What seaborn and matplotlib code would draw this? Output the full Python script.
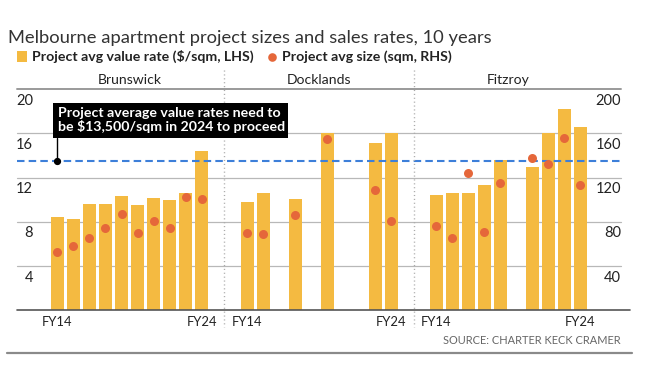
import numpy as np
import pandas as pd
import matplotlib
matplotlib.use("Agg")
import matplotlib.pyplot as plt
import seaborn as sns
from matplotlib.lines import Line2D
from matplotlib.patches import Rectangle
from matplotlib import transforms

# ---------------- data ----------------
suburbs = ["Brunswick", "Docklands", "Fitzroy"]
slots = list(range(10))                 # ten yearly slots, FY14 ... FY24
tick_slots = [0, 9]
tick_labels = ["FY14", "FY24"]

nan = np.nan
brunswick_rate = [8.4, 8.25, 9.65, 9.65, 10.35, 9.5, 10.15, 9.95, 10.6, 14.4]
brunswick_size = [53, 58, 65, 74, 87, 70, 81, 74, 102, 101]
docklands_rate = [9.75, 10.6, nan, 10.05, nan, 16.0, nan, nan, 15.15, 16.0]
docklands_size = [70, 69, nan, 86, nan, 155, nan, nan, 109, 81]
fitzroy_rate = [10.45, 10.6, 10.6, 11.3, 13.55, nan, 13.0, 16.0, 18.25, 16.6]
fitzroy_size = [76, 65, 124, 71, 115, nan, 138, 132, 156, 113]

left_ticks = [4, 8, 12, 16, 20]
right_ticks = [40, 80, 120, 160, 200]
grid_values = [4, 8, 12, 16]
threshold = 13.5

title = "Melbourne apartment project sizes and sales rates, 10 years"
legend_rate = "Project avg value rate ($/sqm, LHS)"
legend_size = "Project avg size (sqm, RHS)"
note_lines = ["Project average value rates need to", "be $13,500/sqm in 2024 to proceed"]
source = "SOURCE: CHARTER KECK CRAMER"

rows = []
for sub, rates, sizes in zip(suburbs,
                             [brunswick_rate, docklands_rate, fitzroy_rate],
                             [brunswick_size, docklands_size, fitzroy_size]):
    for s, r, z in zip(slots, rates, sizes):
        rows.append({"suburb": sub, "slot": s, "rate": r, "size": z})
df = pd.DataFrame(rows)

# ---------------- style ----------------
sns.set_style("white")
plt.rcParams["font.family"] = ["Lato", "DejaVu Sans"]
plt.rcParams["lines.scale_dashes"] = False

BAR = "#F4BA41"
DOT = "#E5673A"
BLUE = "#3D7FD9"
GRID = "#b8b8b8"
TXT = "#222222"

W, H = 650, 368
fig = plt.figure(figsize=(W / 100, H / 100), dpi=100)
fig.patch.set_facecolor("white")
R = fig.canvas.get_renderer()


def fx(px):
    return px / W


def fy(py):
    return 1 - py / H


def fit(t, target):
    w = t.get_window_extent(R).width
    t.set_fontsize(t.get_fontsize() * target / w)
    return t


# layout (pixels)
Y0_PX, Y20_PX = 310, 89.3
SLOT_PX = 16.05
panels_px = [(17, 224, 57.3), (224, 414, 247.0), (414, 630, 436.0)]

axes, twins = [], []
for sub, (l, r, c0) in zip(suburbs, panels_px):
    ax = fig.add_axes([fx(l), fy(Y0_PX), (r - l) / W, (Y0_PX - Y20_PX) / H])
    ax.set_facecolor("none")
    d = df[df["suburb"] == sub]
    sns.barplot(data=d.dropna(subset=["rate"]), x="slot", y="rate",
                native_scale=True, width=13 / 16.05, color=BAR, saturation=1,
                errorbar=None, linewidth=0, ax=ax)
    ax.set_xlim(-(c0 - l) / SLOT_PX, (r - c0) / SLOT_PX)
    ax.set_ylim(0, 20)
    ax.set_xlabel("")
    ax.set_ylabel("")
    ax.set_yticks([])
    ax.set_xticks(tick_slots, tick_labels)
    ax.tick_params(axis="x", length=0, pad=4, labelsize=9.4, labelcolor=TXT)
    for sp in ax.spines.values():
        sp.set_visible(False)
    axes.append(ax)

for sub, ax in zip(suburbs, axes):
    tw = ax.twinx()
    tw.set_zorder(2)
    d = df[df["suburb"] == sub].dropna(subset=["size"])
    sns.scatterplot(data=d, x="slot", y="size", color=DOT, s=42, linewidth=0,
                    legend=False, ax=tw)
    tw.set_ylim(0, 200)
    tw.axis("off")
    twins.append(tw)

ax0 = axes[0]
trans_l = transforms.blended_transform_factory(fig.transFigure, ax0.transData)
trans_r = transforms.blended_transform_factory(fig.transFigure, twins[-1].transData)

# gridlines (behind bars)
for v in grid_values:
    fig.add_artist(Line2D([fx(17), fx(621)], [v, v], transform=trans_l,
                          color=GRID, lw=0.9, zorder=-1))
# header rule at top value
fig.add_artist(Line2D([fx(17), fx(621)], [left_ticks[-1]] * 2, transform=trans_l,
                      color="#9a9a9a", lw=1.4, zorder=-1))
# baseline
fig.add_artist(Line2D([fx(17), fx(630)], [0, 0], transform=trans_l,
                      color="#555555", lw=1.2, zorder=1.5))
# threshold dashed line
fig.add_artist(Line2D([fx(17), fx(621)], [threshold] * 2, transform=trans_l,
                      color=BLUE, lw=1.5, dashes=(5.4, 3.0), zorder=1))

# panel dividers
for xd in [224, 414]:
    fig.add_artist(Line2D([fx(xd), fx(xd)], [fy(70), fy(327)], color="#aaaaaa",
                          lw=1.0, dashes=(0.8, 2.0), zorder=1))

# y tick labels
off_l = transforms.offset_copy(trans_l, fig=fig, y=-15.7, units="dots")
for v in left_ticks:
    fig.text(fx(33), v, str(v), transform=off_l, ha="right", va="baseline",
             fontsize=10.5, color=TXT)
off_r = transforms.offset_copy(trans_r, fig=fig, y=-15.7, units="dots")
for v in right_ticks:
    fig.text(fx(621), v, str(v), transform=off_r, ha="right", va="baseline",
             fontsize=10.5, color=TXT)

# panel headers
hdr_size = None
for sub, (l, r, c0) in zip(suburbs, panels_px):
    cx = c0 + 4.5 * SLOT_PX
    t = fig.text(fx(cx), fy(84), sub, ha="center", va="baseline", fontsize=10,
                 color=TXT)
    if hdr_size is None:
        fit(t, 64)
        hdr_size = t.get_fontsize()
    else:
        t.set_fontsize(hdr_size)

# title
t = fig.text(fx(8), fy(42.7), title, ha="left", va="baseline", fontsize=12,
             color="#333333")
fit(t, 480)

# legend
fig.add_artist(Rectangle((fx(17), fy(62)), 10 / W, 11 / H, color=BAR, lw=0))
t1 = fig.text(fx(31.7), fy(61), legend_rate, ha="left", va="baseline",
              fontsize=10, fontweight="bold", color=TXT)
fit(t1, 222)
fig.add_artist(Line2D([fx(272)], [fy(56.5)], marker="o", ms=6.2, color=DOT,
                      mec="none", lw=0))
t2 = fig.text(fx(281.7), fy(61), legend_size, ha="left", va="baseline",
              fontsize=t1.get_fontsize(), fontweight="bold", color=TXT)

# annotation box
fig.add_artist(Rectangle((fx(52.7), fy(138.3)), (288 - 52.7) / W, 35 / H,
                         color="black", lw=0, zorder=5))
n1 = fig.text(fx(58), fy(116.7), note_lines[0], ha="left", va="baseline",
              fontsize=10, fontweight="bold", color="white", zorder=6)
fit(n1, 223)
fig.text(fx(58), fy(131), note_lines[1], ha="left", va="baseline",
         fontsize=n1.get_fontsize(), fontweight="bold", color="white", zorder=6)
box_bottom_v = (Y0_PX - 138.3) / (Y0_PX - Y20_PX) * left_ticks[-1]
fig.add_artist(Line2D([0, 0], [threshold, box_bottom_v], transform=ax0.transData,
                      color="black", lw=1.0, zorder=6))
fig.add_artist(Line2D([0], [threshold], transform=ax0.transData, marker="o",
                      ms=4.2, color="black", lw=0, zorder=6))

# source + bottom rule
s = fig.text(fx(621), fy(344.3), source, ha="right", va="baseline", fontsize=9,
             color="#666666")
fit(s, 178)
fig.add_artist(Line2D([fx(7), fx(631.7)], [fy(353.3), fy(353.3)],
                      color="#8a8a8a", lw=1.6))

fig.savefig("out.png", dpi=100)
